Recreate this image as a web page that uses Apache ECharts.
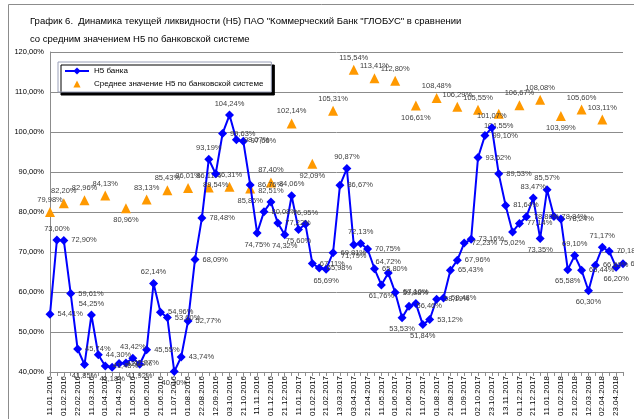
<!DOCTYPE html>
<html>
<head>
<meta charset="utf-8">
<script src="https://cdn.jsdelivr.net/npm/echarts@6/dist/echarts.min.js"></script>
<style>
	html, body { margin: 0; padding: 0; background: #fff; }
	#chart { width: 634px; height: 419px; }
</style>
</head>
<body>
<div id="chart"></div>
<script>
// даты (декады)
const dates = [
	'11.01.2016', '21.01.2016', '01.02.2016', '11.02.2016', '22.02.2016', '01.03.2016', '11.03.2016', '21.03.2016',
	'01.04.2016', '11.04.2016', '21.04.2016', '01.05.2016', '11.05.2016', '21.05.2016', '01.06.2016', '11.06.2016',
	'21.06.2016', '01.07.2016', '11.07.2016', '21.07.2016', '01.08.2016', '11.08.2016', '22.08.2016', '01.09.2016',
	'12.09.2016', '21.09.2016', '03.10.2016', '11.10.2016', '21.10.2016', '01.11.2016', '11.11.2016', '21.11.2016',
	'01.12.2016', '11.12.2016', '21.12.2016', '01.01.2017', '11.01.2017', '21.01.2017', '01.02.2017', '11.02.2017',
	'21.02.2017', '01.03.2017', '13.03.2017', '21.03.2017', '03.04.2017', '11.04.2017', '21.04.2017', '01.05.2017',
	'11.05.2017', '21.05.2017', '01.06.2017', '11.06.2017', '21.06.2017', '01.07.2017', '11.07.2017', '21.07.2017',
	'01.08.2017', '11.08.2017', '21.08.2017', '01.09.2017', '11.09.2017', '21.09.2017', '02.10.2017', '11.10.2017',
	'23.10.2017', '01.11.2017', '13.11.2017', '21.11.2017', '01.12.2017', '11.12.2017', '21.12.2017', '01.01.2018',
	'11.01.2018', '21.01.2018', '01.02.2018', '11.02.2018', '21.02.2018', '01.03.2018', '12.03.2018', '21.03.2018',
	'02.04.2018', '11.04.2018', '23.04.2018', '01.05.2018'
];

// Н5 банка, %
const bankH5 = [
	54.41, 73.00, 72.90, 59.61, 45.74, 41.85, 54.25, 44.30, 41.48, 41.18, 42.12, 42.27,
	43.42, 41.92, 45.55, 62.14, 54.96, 53.60, 40.10, 43.74, 52.77, 68.09, 78.48, 93.19,
	89.54, 99.63, 104.24, 98.07, 97.66, 86.76, 74.75, 80.08, 82.51, 77.22, 74.32, 84.06,
	75.60, 76.95, 67.11, 65.98, 65.69, 69.81, 86.67, 90.87, 71.79, 72.13, 70.75, 65.80,
	61.76, 64.72, 59.88, 53.53, 56.46, 57.10, 51.84, 53.12, 58.19, 58.48, 65.43, 67.96,
	72.23, 73.16, 93.62, 99.10, 101.07, 89.53, 81.64, 75.02, 77.14, 78.80, 83.47, 73.35,
	85.57, 78.84, 78.24, 65.58, 69.10, 65.44, 60.30, 66.69, 71.17, 70.18, 66.20, 67.03
];

// среднее Н5 по системе (на 1-е число месяца)
const avgDates = [
	'11.01.2016', '01.02.2016', '01.03.2016', '01.04.2016', '01.05.2016', '01.06.2016', '01.07.2016',
	'01.08.2016', '01.09.2016', '03.10.2016', '01.11.2016', '01.12.2016', '01.01.2017', '01.02.2017',
	'01.03.2017', '03.04.2017', '01.05.2017', '01.06.2017', '01.07.2017', '01.08.2017', '01.09.2017',
	'02.10.2017', '01.11.2017', '01.12.2017', '01.01.2018', '01.02.2018', '01.03.2018', '02.04.2018'
];
const avgH5 = [
	79.98, 82.20, 82.96, 84.13, 80.96, 83.13, 85.43,
	86.01, 86.11, 86.31, 85.86, 87.40, 102.14, 92.09,
	105.31, 115.54, 113.41, 112.80, 106.61, 108.48, 106.29,
	105.55, 104.55, 106.67, 108.08, 103.99, 105.60, 103.11
];

const yTicks = [40, 50, 60, 70, 80, 90, 100, 110, 120];

const fmt = (v) => v.toFixed(2).replace('.', ',') + '%';

// позиция подписи: вершина - сверху, впадина - снизу
function labelPos(arr, i, other) {
	const v = arr[i], p = arr[i - 1], n = arr[i + 1];
	if (p === undefined || n === undefined) return other;
	if (v > p && v > n) return 'top';
	if (v < p && v < n) return 'bottom';
	return other;
}

const bankData = bankH5.map((v, i) => ({
	value: v,
	label: { position: labelPos(bankH5, i, 'right') }
}));

const avgData = dates.map(() => null);
avgDates.forEach((d, k) => {
	const idx = dates.indexOf(d);
	avgData[idx] = {
		value: avgH5[k],
		label: { position: labelPos(avgH5, k, 'top') === 'bottom' ? 'bottom' : 'top' }
	};
});

const chart = echarts.init(document.getElementById('chart'), null, { renderer: 'canvas' });

const font = 'Liberation Sans';

chart.setOption({
	animation: false,
	backgroundColor: '#fff',
	textStyle: { fontFamily: font },
	graphic: [
		{
			type: 'rect',
			shape: { x: 8.5, y: 4.5, width: 700, height: 500 },
			style: { fill: 'none', stroke: '#8c8c8c', lineWidth: 1 }
		},
		{
			type: 'text',
			left: 30,
			top: 12,
			style: {
				text: 'График 6.  Динамика текущей ликвидности (Н5) ПАО "Коммерческий Банк "ГЛОБУС" в сравнении\nсо средним значением Н5 по банковской системе',
				font: '9.5px "Liberation Sans"',
				lineHeight: 18,
				fill: '#000'
			}
		}
	],
	legend: {
		orient: 'vertical',
		left: 58,
		top: 62,
		padding: [5, 8, 4, 6],
		itemGap: 5,
		itemWidth: 24,
		itemHeight: 9,
		backgroundColor: '#fff',
		borderColor: '#9aa0b8',
		borderWidth: 1,
		shadowColor: '#000',
		shadowOffsetX: 3,
		shadowOffsetY: 3,
		shadowBlur: 0,
		textStyle: { fontSize: 8, color: '#000', fontFamily: font },
		data: ['Н5 банка', 'Среднее значение Н5 по банковской системе']
	},
	grid: { left: 50, right: 11, top: 52, bottom: 47 },
	xAxis: {
		type: 'category',
		data: dates,
		boundaryGap: false,
		axisLine: { lineStyle: { color: '#8c8c8c' } },
		axisTick: { interval: 0, length: 4, lineStyle: { color: '#8c8c8c' } },
		axisLabel: {
			interval: 1,
			rotate: 90,
			fontSize: 8,
			color: '#000',
			margin: 4
		},
		splitLine: { show: false }
	},
	yAxis: {
		type: 'value',
		min: yTicks[0],
		max: yTicks[yTicks.length - 1],
		interval: 10,
		axisLine: { show: true, lineStyle: { color: '#8c8c8c' } },
		axisTick: { show: false },
		axisLabel: {
			fontSize: 7.5,
			color: '#000',
			margin: 6,
			formatter: (v) => v.toFixed(2).replace('.', ',') + '%'
		},
		splitLine: { lineStyle: { color: '#8c8c8c', width: 1 } }
	},
	series: [
		{
			name: 'Н5 банка',
			type: 'line',
			data: bankData,
			color: '#0000ff',
			showAllSymbol: true,
			lineStyle: { color: '#0000ff', width: 2 },
			symbol: 'diamond',
			symbolSize: 9,
			itemStyle: { color: '#0000ff' },
			label: {
				show: true,
				fontSize: 7.5,
				color: '#404040',
				distance: 3,
				formatter: (p) => fmt(p.value)
			},
			z: 3
		},
		{
			name: 'Среднее значение Н5 по банковской системе',
			type: 'line',
			data: avgData,
			color: '#ff9900',
			showAllSymbol: true,
			connectNulls: false,
			lineStyle: { width: 0 },
			symbol: 'triangle',
			symbolSize: 10,
			itemStyle: { color: '#ff9900' },
			label: {
				show: true,
				fontSize: 7.5,
				color: '#404040',
				distance: 3,
				formatter: (p) => fmt(p.value)
			},
			z: 2
		}
	]
});
</script>
</body>
</html>
